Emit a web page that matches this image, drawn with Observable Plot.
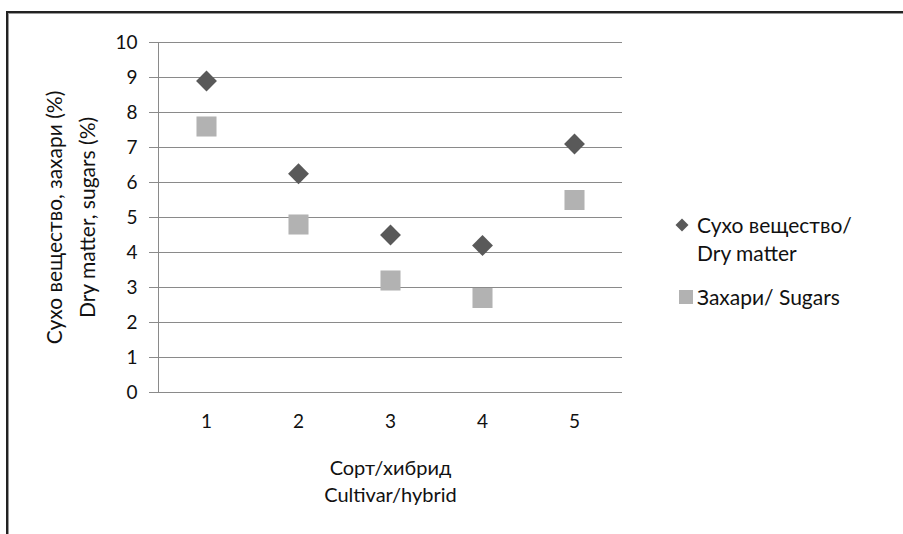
<!DOCTYPE html>
<html>
<head>
<meta charset="utf-8">
<script src="https://cdn.jsdelivr.net/npm/d3@7"></script>
<script src="https://cdn.jsdelivr.net/npm/@observablehq/plot@0.6"></script>
<style>
  html, body { margin: 0; padding: 0; background: #fff; }
  #wrap { position: relative; width: 903px; height: 534px; overflow: hidden; font-family: Lato, "Open Sans", sans-serif; }
  #frame { position: absolute; left: 6px; top: 11px; width: 920px; height: 560px;
           border-top: 2px solid #222; border-left: 2px solid #222; box-shadow: inset 1px 1px 0 #999; }
  #legend { position: absolute; left: 674px; top: 211px; font-size: 21px; color: #111; }
  .item { position: absolute; white-space: nowrap; line-height: 28px; }
  .item svg { position: absolute; }
</style>
</head>
<body>
<div id="wrap">
  <div id="frame"></div>
  <div id="chart"></div>
  <div id="legend"></div>
</div>
<script>
const cultivars = ["1", "2", "3", "4", "5"];
const dryMatter = [8.9, 6.25, 4.5, 4.2, 7.1];
const sugars = [7.6, 4.8, 3.2, 2.7, 5.5];
const yTicks = [0, 1, 2, 3, 4, 5, 6, 7, 8, 9, 10];
const seriesNames = ["Сухо вещество/\nDry matter", "Захари/ Sugars"];
const yTitle = "Сухо вещество, захари (%)\nDry matter, sugars (%)";
const xTitle = "Сорт/хибрид\nCultivar/hybrid";

const dry = cultivars.map((c, i) => ({c, v: dryMatter[i]}));
const sug = cultivars.map((c, i) => ({c, v: sugars[i]}));

const plot = Plot.plot({
  width: 903,
  height: 534,
  marginLeft: 158,
  marginRight: 281,
  marginTop: 42,
  marginBottom: 142,
  style: {fontFamily: "Lato, 'Open Sans', sans-serif", fontSize: "19px", color: "#111", background: "transparent"},
  x: {type: "band", domain: cultivars, padding: 0},
  y: {domain: [0, 10]},
  marks: [
    Plot.gridY(yTicks, {stroke: "#8a8a8a", strokeOpacity: 1, strokeWidth: 1}),
    Plot.axisY(yTicks, {tickSize: 9, tickPadding: 12, stroke: "#8a8a8a", label: null, tickFormat: d => d, fill: "#111", fontSize: 19}),
    Plot.axisX({tickSize: 0, tickPadding: 22, label: null, fill: "#111", fontSize: 19}),
    Plot.frame({anchor: "left", stroke: "#8a8a8a"}),
    Plot.text([yTitle], {frameAnchor: "left", dx: -91, rotate: -90, text: d => d, fontSize: 21, lineHeight: 1.57, textAnchor: "middle", lineAnchor: "middle", fill: "#111"}),
    Plot.text([xTitle], {frameAnchor: "bottom", dy: 87.5, text: d => d, fontSize: 20, lineHeight: 1.35, textAnchor: "middle", lineAnchor: "middle", fill: "#111"}),
    Plot.dot(dry, {x: "c", y: "v", symbol: "diamond2", r: 9.4, fill: "#595959", stroke: "none"}),
    Plot.dot(sug, {x: "c", y: "v", symbol: "square", r: 11.3, fill: "#b2b2b2", stroke: "none"})
  ]
});
document.getElementById("chart").appendChild(plot);

// Legend
const legend = document.getElementById("legend");
const items = [
  {name: seriesNames[0], top: 0, sym: `<svg width="16" height="16" style="left:0;top:6px"><path d="M8,1.5L14.5,8L8,14.5L1.5,8Z" fill="#595959"/></svg>`},
  {name: seriesNames[1], top: 72, sym: `<svg width="16" height="16" style="left:5px;top:6px"><rect x="0" y="1" width="14" height="14" fill="#b2b2b2"/></svg>`}
];
items.forEach(it => {
  const d = document.createElement("div");
  d.className = "item";
  d.style.top = it.top + "px";
  d.style.left = "0px";
  d.innerHTML = it.sym + `<div style="margin-left:23px">${it.name.replace("\n", "<br>")}</div>`;
  legend.appendChild(d);
});
</script>
</body>
</html>
